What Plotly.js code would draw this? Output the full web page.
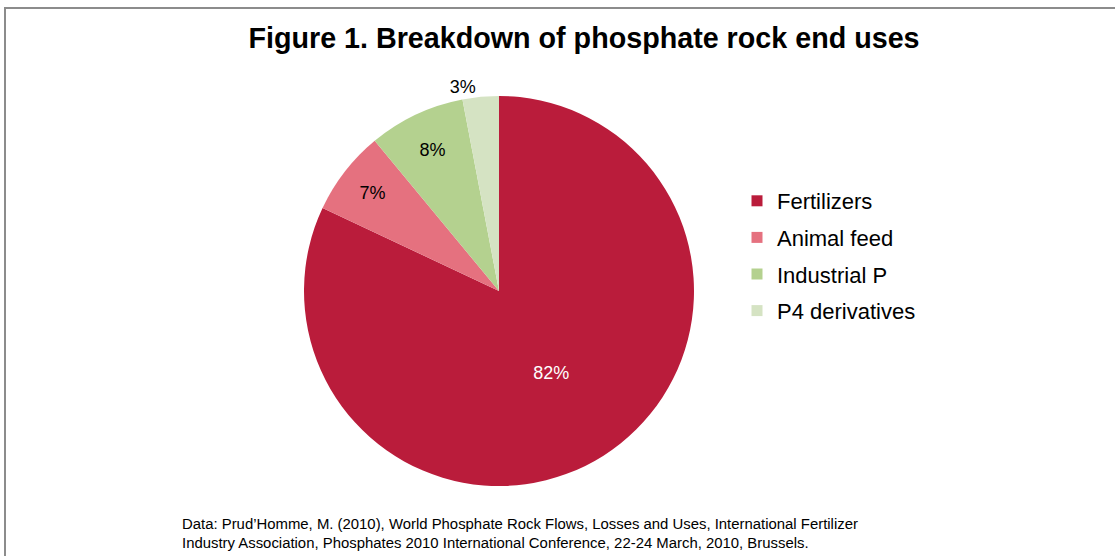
<!DOCTYPE html>
<html>
<head>
<meta charset="utf-8">
<script src="https://cdn.plot.ly/plotly-3.0.1.min.js"></script>
<style>
  html, body { margin: 0; padding: 0; background: #ffffff; }
  #wrap { position: relative; width: 1115px; height: 556px; overflow: hidden; }
  #frame { position: absolute; left: 4px; top: 7px; width: 1200px; height: 600px;
           border-left: 2px solid #8c8c8c; border-top: 2px solid #8c8c8c; box-sizing: border-box; }
  #chart { position: absolute; left: 0; top: 0; width: 1115px; height: 556px; }
</style>
</head>
<body>
<div id="wrap">
  <div id="frame"></div>
  <div id="chart"></div>
</div>
<script>
const categories = ["Fertilizers", "Animal feed", "Industrial P", "P4 derivatives"];
const shares = [82, 7, 8, 3];
const sliceColors = ["#BA1C3B", "#E5717F", "#B4D18F", "#D5E3C3"];
const labelColors = ["#ffffff", "#000000", "#000000", "#000000"];
const labelPositions = ["inside", "inside", "inside", "outside"];
const titleText = "Figure 1. Breakdown of phosphate rock end uses";
const sourceText = "Data: Prud’Homme, M. (2010), World Phosphate Rock Flows, Losses and Uses, International Fertilizer<br>Industry Association, Phosphates 2010 International Conference, 22-24 March, 2010, Brussels.";

const W = 1115, H = 556;
const FONT = "Liberation Sans, Arial, Helvetica, sans-serif";

const pie = {
  type: "pie",
  labels: categories,
  values: shares,
  sort: false,
  direction: "clockwise",
  rotation: 0,
  marker: { colors: sliceColors, line: { width: 0 } },
  textinfo: "percent",
  texttemplate: "%{percent:.0%}",
  textposition: labelPositions,
  insidetextorientation: "horizontal",
  textfont: { family: FONT, size: 18, color: labelColors },
  outsidetextfont: { family: FONT, size: 18, color: "#000000" },
  showlegend: false,
  hoverinfo: "label+percent",
  domain: { x: [304 / W, 694 / W], y: [1 - 486 / H, 1 - 96 / H] }
};

const legendTraces = categories.map((name, i) => ({
  type: "scatter",
  mode: "markers",
  x: [null],
  y: [null],
  name: name,
  legendgroup: "g" + i,
  marker: { symbol: "square", size: 11, color: sliceColors[i] },
  hoverinfo: "skip"
}));

const layout = {
  width: W,
  height: H,
  margin: { l: 0, r: 0, t: 0, b: 0 },
  paper_bgcolor: "rgba(0,0,0,0)",
  plot_bgcolor: "rgba(0,0,0,0)",
  font: { family: FONT, color: "#000000" },
  title: {
    text: "<b>" + titleText + "</b>",
    font: { family: FONT, size: 28.7, color: "#000000" },
    x: 584 / W, xanchor: "center", xref: "paper",
    y: 1 - 38 / H, yanchor: "middle", yref: "container"
  },
  xaxis: { visible: false, domain: [0.9, 1] },
  yaxis: { visible: false, domain: [0.9, 1] },
  showlegend: true,
  legend: {
    x: 737 / W, xanchor: "left",
    y: 1 - 180 / H, yanchor: "top",
    font: { family: FONT, size: 22, color: "#000000" },
    tracegroupgap: 5,
    bgcolor: "rgba(0,0,0,0)",
    itemclick: false
  },
  annotations: [{
    text: sourceText,
    xref: "paper", yref: "paper",
    x: 180 / W, xanchor: "left",
    y: 1 - 533 / H, yanchor: "middle",
    align: "left",
    showarrow: false,
    font: { family: FONT, size: 14.9, color: "#000000" }
  }]
};

Plotly.newPlot("chart", [pie].concat(legendTraces), layout, { displayModeBar: false, staticPlot: true });
</script>
</body>
</html>
